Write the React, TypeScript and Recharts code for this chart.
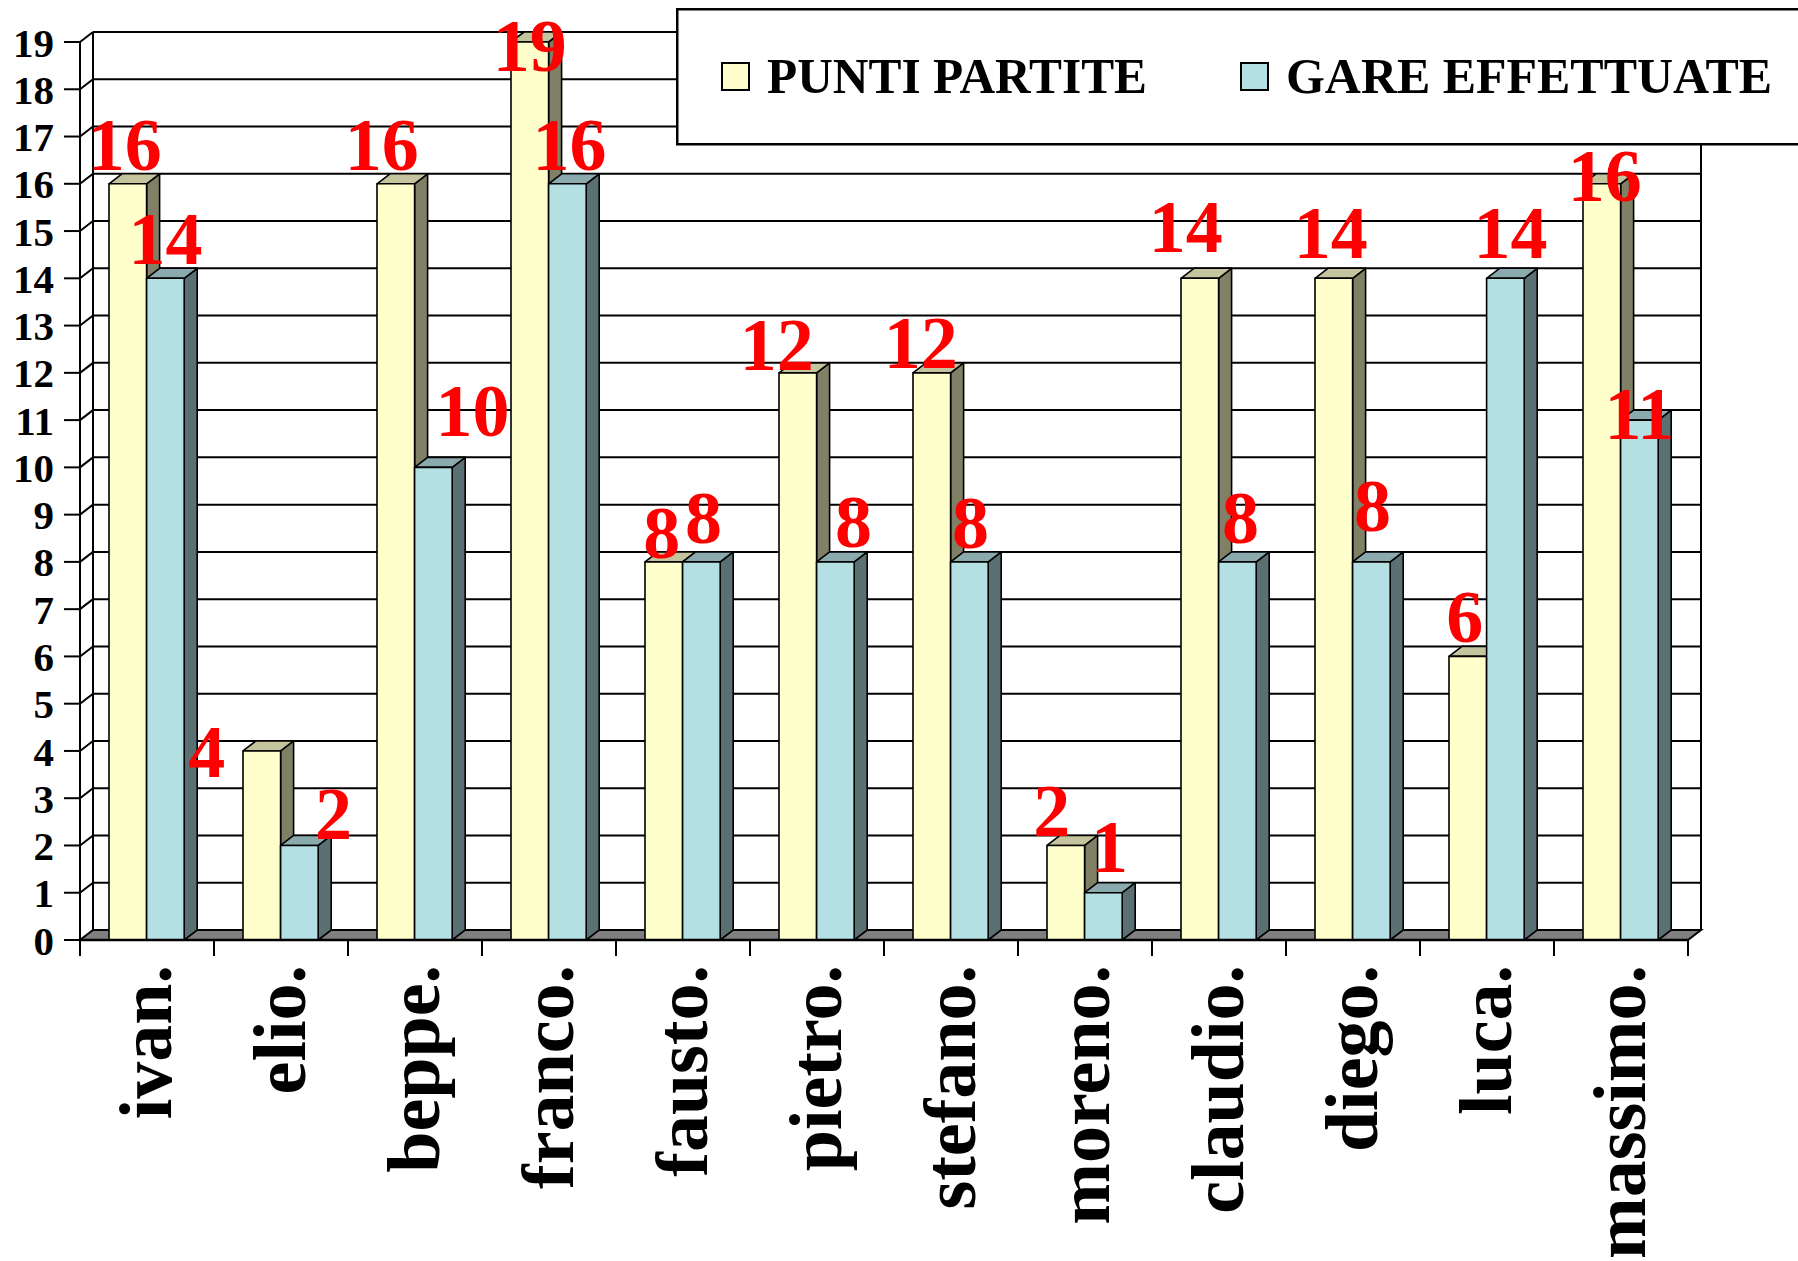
import { BarChart, Bar, XAxis, YAxis, CartesianGrid, Legend, LabelList } from "recharts";

const giocatori = ["ivan.", "elio.", "beppe.", "franco.", "fausto.", "pietro.", "stefano.", "moreno.", "claudio.", "diego.", "luca.", "massimo."];
const puntiPartite = [16, 4, 16, 19, 8, 12, 12, 2, 14, 14, 6, 16];
const gareEffettuate = [14, 2, 10, 16, 8, 8, 8, 1, 8, 8, 14, 11];
const yTicks = [0, 1, 2, 3, 4, 5, 6, 7, 8, 9, 10, 11, 12, 13, 14, 15, 16, 17, 18, 19];

// spostamento etichette (dx, dy) rispetto a centro/cima della barra, come nel grafico Excel
const nudgePunti = [[-3, 0], [-55, 40], [-14, 0], [0, 43], [-2, 10], [-21, 11], [-11, 9], [-14, 5], [-14, -12], [-3, -6], [-3, 0], [3, 31]];
const nudgeGare = [[0, 0], [34, 8], [39, -17], [2, 0], [2, -5], [18, -1], [1, 0], [6, -7], [3, -5], [1, -17], [5, -6], [0, 33]];

const dati = giocatori.map((nome, i) => ({ nome, punti: puntiPartite[i], gare: gareEffettuate[i] }));

const SERIF = "'Liberation Serif', 'Times New Roman', serif";
const W = 1798;
const H = 1261;
const PLOT_LEFT = 80;
const PLOT_RIGHT = 1688;
const PLOT_TOP = 42;
const PLOT_BOTTOM = 940;
const BAND = (PLOT_RIGHT - PLOT_LEFT) / giocatori.length;
const DX = 13;
const DY = 10;

const COL = {
  giallo: { front: "#FFFFCC", top: "#C4C49E", side: "#808066" },
  blu: { front: "#B4E0E4", top: "#8AAAAD", side: "#5B7072" },
};

function bar3d(c: { front: string; top: string; side: string }) {
  return (props: any) => {
    const { x, y, width: w, height: h } = props;
    if (h == null || w == null) return null;
    return (
      <g stroke="#000" strokeWidth={1.6} strokeLinejoin="round">
        <polygon points={`${x + w},${y} ${x + w + DX},${y - DY} ${x + w + DX},${y + h - DY} ${x + w},${y + h}`} fill={c.side} />
        <polygon points={`${x},${y} ${x + DX},${y - DY} ${x + w + DX},${y - DY} ${x + w},${y}`} fill={c.top} />
        <rect x={x} y={y} width={w} height={h} fill={c.front} />
      </g>
    );
  };
}

function etichetta(nudge: number[][]) {
  return (props: any) => {
    const { x, y, width, value, index } = props;
    const [dx, dy] = nudge[index] ?? [0, 0];
    return (
      <text
        x={x + width / 2 + dx}
        y={y - 14 + dy}
        textAnchor="middle"
        fill="#FF0000"
        fontSize={74}
        fontWeight={700}
        fontFamily={SERIF}
      >
        {value}
      </text>
    );
  };
}

// linee sulla parete di fondo + raccordo con l'asse frontale
function rigaGriglia(p: any) {
  const { x1, x2, y1, key } = p;
  if (Math.abs(y1 - PLOT_BOTTOM) < 1) {
    return (
      <polygon
        key={key}
        points={`${x1},${y1} ${x2},${y1} ${x2 + DX},${y1 - DY} ${x1 + DX},${y1 - DY}`}
        fill="#808080"
        stroke="#000"
        strokeWidth={2}
      />
    );
  }
  return (
    <g key={key} stroke="#000" strokeWidth={2}>
      <line x1={x1 + DX} y1={y1 - DY} x2={x2 + DX} y2={y1 - DY} />
      <line x1={x1} y1={y1} x2={x1 + DX} y2={y1 - DY} />
    </g>
  );
}

function colonnaGriglia(p: any) {
  const { x1, y1, y2, key } = p;
  return <line key={key} x1={x1 + DX} y1={y1 - DY} x2={x1 + DX} y2={y2 - DY} stroke="#000" strokeWidth={2} />;
}

function NomeTick({ x, y, payload, index }: any) {
  const half = BAND / 2;
  return (
    <g>
      <line x1={x - half} y1={y} x2={x - half} y2={y + 16} stroke="#000" strokeWidth={2} />
      {index === giocatori.length - 1 && (
        <line x1={x + half} y1={y} x2={x + half} y2={y + 16} stroke="#000" strokeWidth={2} />
      )}
      <text
        transform={`translate(${x + 24},${y + 25}) rotate(-90)`}
        textAnchor="end"
        fill="#000"
        fontSize={74}
        fontWeight={700}
        fontFamily={SERIF}
      >
        {payload.value}
      </text>
    </g>
  );
}

const serieOrdine = ["punti", "gare"];
const legendX = [46, 565];
const legendLen = [380, 486];

function LegendaBox({ payload }: any) {
  const voci = serieOrdine
    .map((k) => (payload ?? []).find((e: any) => e.dataKey === k))
    .filter(Boolean);
  return (
    <svg width={1130} height={138} style={{ display: "block" }}>
      <rect x={1.25} y={1.25} width={1300} height={135} fill="#fff" stroke="#000" strokeWidth={2.5} />
      {voci.map((e: any, i: number) => (
        <g key={e.value}>
          <rect x={legendX[i]} y={55} width={27} height={27} fill={e.color} stroke="#000" strokeWidth={2} />
          <text
            x={legendX[i] + 45}
            y={85}
            fontSize={50}
            fontWeight={700}
            fontFamily={SERIF}
            fill="#000"
            textLength={legendLen[i]}
            lengthAdjust="spacingAndGlyphs"
          >
            {e.value}
          </text>
        </g>
      ))}
    </svg>
  );
}

export default function App() {
  return (
    <div style={{ position: "absolute", left: 0, top: 0, width: W, height: H, overflow: "hidden", background: "#fff" }}>
      <BarChart
        width={W}
        height={H}
        data={dati}
        margin={{ top: PLOT_TOP, right: W - PLOT_RIGHT, left: 0, bottom: H - PLOT_BOTTOM - 300 }}
        barSize={37.6}
        barGap={0}
      >
        <CartesianGrid
          horizontal={rigaGriglia}
          vertical={colonnaGriglia}
          verticalPoints={[PLOT_LEFT, PLOT_RIGHT]}
          stroke="#000"
        />
        <XAxis
          dataKey="nome"
          height={300}
          interval={0}
          tickLine={false}
          tickSize={0}
          tickMargin={0}
          tick={<NomeTick />}
          axisLine={{ stroke: "#000", strokeWidth: 2.5 }}
        />
        <YAxis
          width={PLOT_LEFT}
          domain={[0, 19]}
          ticks={yTicks}
          interval={0}
          tickSize={16}
          tickMargin={10}
          axisLine={{ stroke: "#000", strokeWidth: 2 }}
          tickLine={{ stroke: "#000", strokeWidth: 2 }}
          tick={{ fill: "#000", fontSize: 41, fontWeight: 700, fontFamily: SERIF }}
        />
        <Legend
          layout="vertical"
          align="center"
          verticalAlign="middle"
          content={<LegendaBox />}
          wrapperStyle={{ top: 8, left: 676 }}
        />
        <Bar dataKey="punti" name="PUNTI PARTITE" fill={COL.giallo.front} shape={bar3d(COL.giallo)} isAnimationActive={false}>
          <LabelList dataKey="punti" content={etichetta(nudgePunti)} />
        </Bar>
        <Bar dataKey="gare" name="GARE EFFETTUATE" fill={COL.blu.front} shape={bar3d(COL.blu)} isAnimationActive={false}>
          <LabelList dataKey="gare" content={etichetta(nudgeGare)} />
        </Bar>
      </BarChart>
    </div>
  );
}
